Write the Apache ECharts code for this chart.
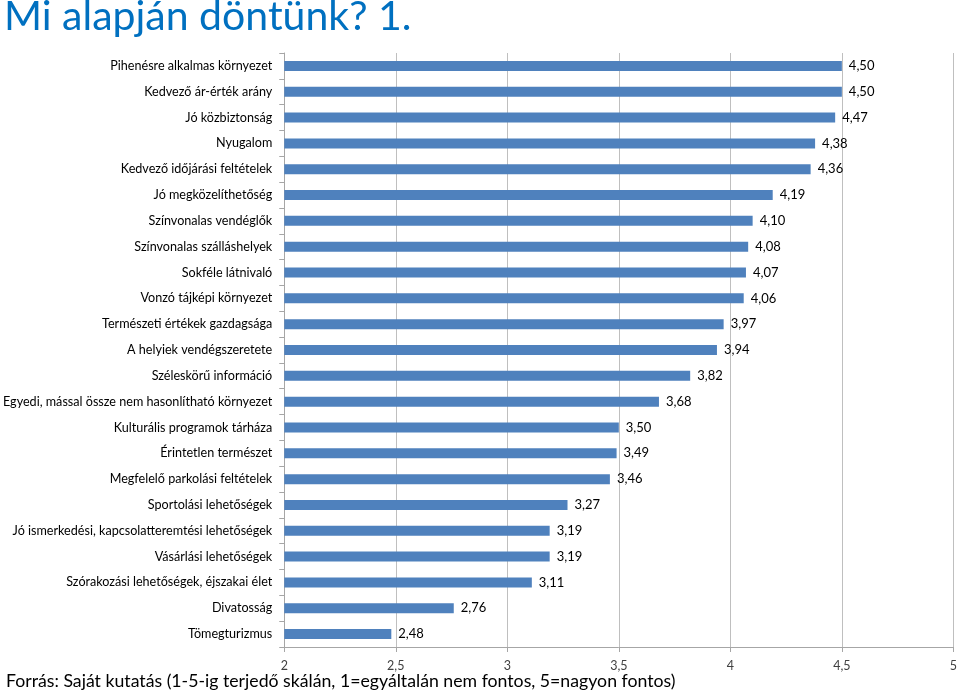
<!DOCTYPE html>
<html>
<head>
<meta charset="utf-8">
<script src="https://cdn.jsdelivr.net/npm/echarts@6/dist/echarts.min.js"></script>
<style>html,body{margin:0;padding:0;background:#fff}#c{width:960px;height:695px}</style>
</head>
<body>
<div id="c"></div>
<script>
const categories = [
  "Pihenésre alkalmas környezet",
  "Kedvező ár-érték arány",
  "Jó közbiztonság",
  "Nyugalom",
  "Kedvező időjárási feltételek",
  "Jó megközelíthetőség",
  "Színvonalas vendéglők",
  "Színvonalas szálláshelyek",
  "Sokféle látnivaló",
  "Vonzó tájképi környezet",
  "Természeti értékek gazdagsága",
  "A helyiek vendégszeretete",
  "Széleskörű információ",
  "Egyedi, mással össze nem hasonlítható környezet",
  "Kulturális programok tárháza",
  "Érintetlen természet",
  "Megfelelő parkolási feltételek",
  "Sportolási lehetőségek",
  "Jó ismerkedési, kapcsolatteremtési lehetőségek",
  "Vásárlási lehetőségek",
  "Szórakozási lehetőségek, éjszakai élet",
  "Divatosság",
  "Tömegturizmus"
];
const values = [4.50, 4.50, 4.47, 4.38, 4.36, 4.19, 4.10, 4.08, 4.07, 4.06, 3.97, 3.94, 3.82, 3.68, 3.50, 3.49, 3.46, 3.27, 3.19, 3.19, 3.11, 2.76, 2.48];
const titleText = "Mi alapján döntünk? 1.";
const footerText = "Forrás: Saját kutatás (1-5-ig terjedő skálán, 1=egyáltalán nem fontos, 5=nagyon fontos)";

const fmt = v => String(v).replace('.', ',');
const chart = echarts.init(document.getElementById('c'), null, {renderer: 'canvas'});
chart.setOption({
  animation: false,
  backgroundColor: '#fff',
  title: [
    {text: titleText, left: 4, top: -4, padding: 0,
     textStyle: {fontFamily: 'Lato', fontSize: 41, fontWeight: 'normal', color: '#0070c0'}},
    {text: footerText, left: 6, top: 672, padding: 0,
     textStyle: {fontFamily: 'Lato', fontSize: 17.7, fontWeight: 'normal', color: '#000'}}
  ],
  grid: {left: 284, right: 2, top: 53, bottom: 48, containLabel: false},
  xAxis: {
    type: 'value', min: 2, max: 5, interval: 0.5,
    axisLine: {show: true, lineStyle: {color: '#a6a6a6'}},
    axisTick: {show: true, length: 5, lineStyle: {color: '#a6a6a6'}},
    axisLabel: {formatter: v => fmt(v), fontFamily: 'Lato', fontSize: 12.5, color: '#404040', margin: 12},
    splitLine: {show: true, lineStyle: {color: '#bfbfbf'}}
  },
  yAxis: {
    type: 'category', data: categories, inverse: true,
    axisLine: {show: true, lineStyle: {color: '#a6a6a6'}},
    axisTick: {show: true, length: 5, lineStyle: {color: '#a6a6a6'}},
    axisLabel: {fontFamily: 'Lato', fontSize: 12.6, color: '#000', margin: 12}
  },
  series: [{
    type: 'bar', data: values, barWidth: 10,
    itemStyle: {color: '#4f81bd'},
    label: {show: true, position: 'right', distance: 7, formatter: p => p.value.toFixed(2).replace('.', ','),
            fontFamily: 'Lato', fontSize: 13, color: '#000'}
  }]
});
</script>
</body>
</html>
